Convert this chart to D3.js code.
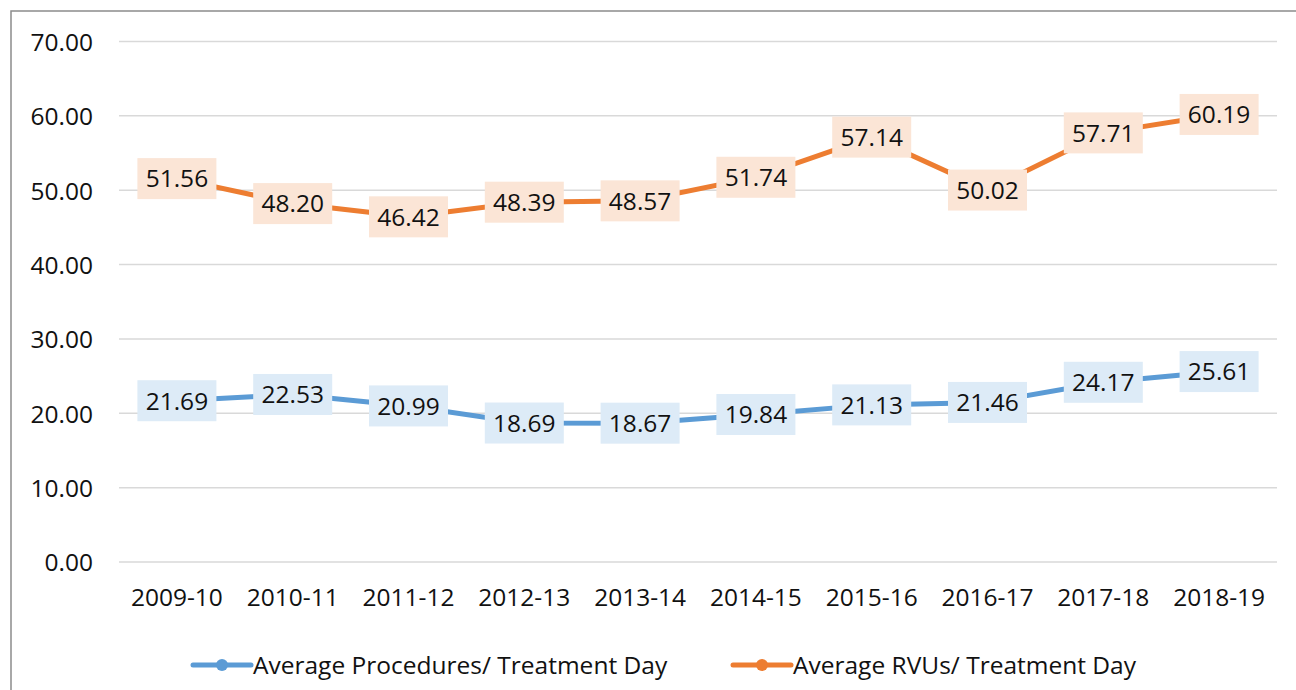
<!DOCTYPE html>
<html>
<head>
<meta charset="utf-8">
<script src="https://cdn.jsdelivr.net/npm/d3@7"></script>
<style>
html,body{margin:0;padding:0;background:#fff;}
svg{display:block;font-family:"Open Sans","Noto Sans",sans-serif;}
</style>
</head>
<body>
<svg id="chart" width="1296" height="690"></svg>
<script>
const categories = ["2009-10","2010-11","2011-12","2012-13","2013-14","2014-15","2015-16","2016-17","2017-18","2018-19"];
const procedures = [21.69,22.53,20.99,18.69,18.67,19.84,21.13,21.46,24.17,25.61];
const rvus = [51.56,48.20,46.42,48.39,48.57,51.74,57.14,50.02,57.71,60.19];
const yTicks = [0,10,20,30,40,50,60,70];
const seriesNames = ["Average Procedures/ Treatment Day","Average RVUs/ Treatment Day"];

const svg = d3.select("#chart");
const W = 1296, H = 690;
const plot = {left:119, right:1277, top:41.5, bottom:562};
const FS = 24.5;

svg.append("rect").attr("x",11).attr("y",11).attr("width",W+20).attr("height",H+20)
  .attr("fill","#fff").attr("stroke","#8c8c8c").attr("stroke-width",1.5);

const x = d3.scaleBand().domain(categories).range([plot.left, plot.right]);
const y = d3.scaleLinear().domain([0,70]).range([plot.bottom, plot.top]);

// gridlines
svg.append("g").selectAll("line").data(yTicks).join("line")
  .attr("x1",plot.left).attr("x2",plot.right)
  .attr("y1",d=>y(d)).attr("y2",d=>y(d))
  .attr("stroke","#d9d9d9").attr("stroke-width",1.5);

// y axis labels
const yAxis = d3.axisLeft(y).tickValues(yTicks).tickFormat(d3.format(".2f")).tickSize(0).tickPadding(0);
const gy = svg.append("g").attr("transform",`translate(93,0)`).call(yAxis);
gy.select(".domain").remove();
gy.selectAll("text").attr("font-size",FS).attr("fill","#111").attr("dy","0.36em")
  .style("font-family",'"Open Sans","Noto Sans",sans-serif');

// x axis labels
const xAxis = d3.axisBottom(x).tickSize(0).tickPadding(0);
const gx = svg.append("g").attr("transform",`translate(0,606)`).call(xAxis);
gx.select(".domain").remove();
gx.selectAll("text").attr("font-size",FS).attr("fill","#111").attr("dy","0")
  .style("font-family",'"Open Sans","Noto Sans",sans-serif');

const series = [
  {name:seriesNames[0], values:procedures, color:"#5b9bd5", fill:"#ddebf7"},
  {name:seriesNames[1], values:rvus, color:"#ed7d31", fill:"#fbe5d6"}
];

const cx = d => x(d) + x.bandwidth()/2;
const line = d3.line().x((v,i)=>cx(categories[i])).y(v=>y(v));

series.forEach(s=>{
  svg.append("path").datum(s.values).attr("d",line)
    .attr("fill","none").attr("stroke",s.color).attr("stroke-width",5).attr("stroke-linejoin","round");
  svg.append("g").selectAll("circle").data(s.values).join("circle")
    .attr("cx",(v,i)=>cx(categories[i])).attr("cy",v=>y(v)).attr("r",5).attr("fill",s.color);
  const lg = svg.append("g").selectAll("g").data(s.values).join("g")
    .attr("transform",(v,i)=>`translate(${cx(categories[i])},${y(v)})`);
  lg.append("rect").attr("x",-39.5).attr("y",-20.5).attr("width",79).attr("height",41).attr("fill",s.fill);
  lg.append("text").attr("text-anchor","middle").attr("dy","0.36em")
    .attr("font-size",FS).attr("fill","#111").text(v=>v.toFixed(2));
});

// legend
const legendPos = [{x:193},{x:733}];
series.forEach((s,i)=>{
  const g = svg.append("g").attr("transform",`translate(${legendPos[i].x},665)`);
  g.append("line").attr("x1",0).attr("x2",58).attr("y1",0).attr("y2",0)
    .attr("stroke",s.color).attr("stroke-width",5).attr("stroke-linecap","round");
  g.append("circle").attr("cx",29).attr("cy",0).attr("r",6).attr("fill",s.color);
  g.append("text").attr("x",60).attr("y",0).attr("dy","0.36em").attr("font-size",FS)
    .attr("fill","#111").text(s.name);
});
</script>
</body>
</html>
